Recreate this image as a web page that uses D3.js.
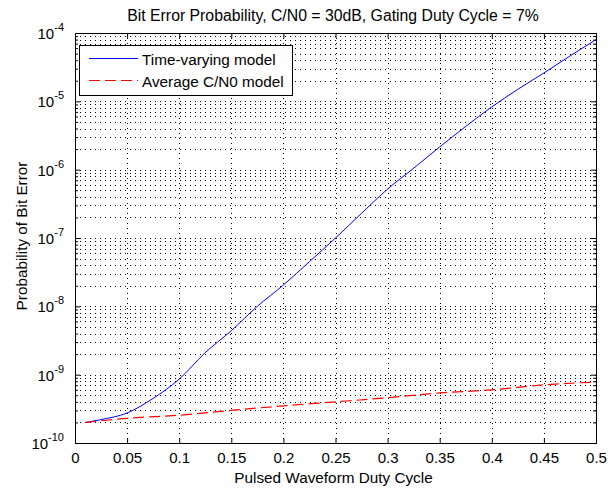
<!DOCTYPE html>
<html>
<head>
<meta charset="utf-8">
<script src="https://cdn.jsdelivr.net/npm/d3@7"></script>
<style>
body { margin: 0; background: #fff; }
text { font-family: "Liberation Sans", Arial, sans-serif; fill: #000; }
</style>
</head>
<body>
<svg id="canvas" width="608" height="493"></svg>
<script>
// duty cycle samples and the two curves
var dutyCycle = [0.01, 0.025, 0.05, 0.075, 0.1, 0.125, 0.15, 0.175, 0.2, 0.225, 0.25, 0.275, 0.3, 0.325, 0.35, 0.375, 0.4, 0.425, 0.45, 0.475, 0.5];
var timeVarying = [2.0e-10, 2.2e-10, 2.75e-10, 4.5e-10, 8.6e-10, 2.1e-9, 4.4e-9, 1.0e-8, 2.05e-8, 4.5e-8, 1.0e-7, 2.3e-7, 5.2e-7, 1.05e-6, 2.15e-6, 4.3e-6, 8.3e-6, 1.5e-5, 2.6e-5, 4.6e-5, 8.0e-5];
var avgDuty = [0.01, 0.05, 0.1, 0.15, 0.2, 0.25, 0.3, 0.35, 0.4, 0.45, 0.5];
var averageModel = [2.0e-10, 2.3e-10, 2.55e-10, 3.0e-10, 3.5e-10, 4.0e-10, 4.6e-10, 5.4e-10, 6.0e-10, 7.1e-10, 7.8e-10];
var xTicks = [0, 0.05, 0.1, 0.15, 0.2, 0.25, 0.3, 0.35, 0.4, 0.45, 0.5];
var yExponents = [-10, -9, -8, -7, -6, -5, -4];

var margin = {left: 75, top: 33, right: 12, bottom: 50};
var width = 608 - margin.left - margin.right,
    height = 493 - margin.top - margin.bottom;

var svg = d3.select("#canvas");
var g = svg.append("g").attr("transform", "translate(" + margin.left + "," + margin.top + ")");

var x = d3.scaleLinear().domain([0, 0.5]).range([0, width]);
var y = d3.scaleLog().domain([1e-10, 1e-4]).range([height, 0]);

// all log ticks (majors + minors)
var logTicks = [];
yExponents.forEach(function (e) {
    for (var m = 1; m <= 9; m++) {
        if (e === -4 && m > 1) break;
        logTicks.push(m * Math.pow(10, e));
    }
});
function isMajor(d) { return Math.abs(Math.log10(d) - Math.round(Math.log10(d))) < 1e-9; }

// grid
var grid = g.append("g").attr("class", "grid")
    .attr("stroke", "#000").attr("stroke-width", 1)
    .attr("stroke-dasharray", "1,4").attr("shape-rendering", "crispEdges");
grid.selectAll("line.gx").data(xTicks.slice(1, -1)).enter().append("line")
    .attr("x1", function (d) { return Math.round(x(d)) + 0.5; })
    .attr("x2", function (d) { return Math.round(x(d)) + 0.5; })
    .attr("y1", 0).attr("y2", height);
grid.selectAll("line.gy").data(logTicks.slice(1, -1)).enter().append("line")
    .attr("x1", 0).attr("x2", width)
    .attr("y1", function (d) { return Math.round(y(d)) + 0.5; })
    .attr("y2", function (d) { return Math.round(y(d)) + 0.5; });

// axes, ticks pointing inward, mirrored on top/right
var xAxisB = d3.axisBottom(x).tickValues(xTicks).tickSizeInner(-5).tickSizeOuter(0).tickPadding(9)
    .tickFormat(function (d) { return d === 0 ? "0" : d3.format("")(d); });
var xAxisT = d3.axisTop(x).tickValues(xTicks).tickSizeInner(-5).tickSizeOuter(0).tickFormat("");
var yAxisL = d3.axisLeft(y).tickValues(logTicks).tickSizeOuter(0).tickFormat("");
var yAxisR = d3.axisRight(y).tickValues(logTicks).tickSizeOuter(0).tickFormat("");

function styleAxis(sel) {
    sel.select(".domain").remove();
    sel.selectAll("line").attr("stroke", "#000");
    sel.selectAll("text").attr("font-size", 15).attr("font-family", "Liberation Sans, Arial, sans-serif");
}
g.append("g").attr("transform", "translate(0," + height + ")").call(xAxisB).call(styleAxis);
g.append("g").call(xAxisT).call(styleAxis);
g.append("g").call(yAxisL).call(styleAxis)
    .selectAll(".tick line").attr("x2", function (d) { return isMajor(d) ? 5 : 3; });
g.append("g").attr("transform", "translate(" + width + ",0)").call(yAxisR).call(styleAxis)
    .selectAll(".tick line").attr("x2", function (d) { return isMajor(d) ? -5 : -3; });

// y tick labels 10^n
var yLab = g.append("g");
yExponents.forEach(function (e) {
    var t = yLab.append("text")
        .attr("x", -11).attr("y", y(Math.pow(10, e)) + 6)
        .attr("text-anchor", "end").attr("font-size", 15);
    t.append("tspan").text("10");
    t.append("tspan").attr("dy", -8).attr("font-size", 11).text(String(e));
});

// box
g.append("rect").attr("x", 0.5).attr("y", 0.5).attr("width", width).attr("height", height)
    .attr("fill", "none").attr("stroke", "#000").attr("stroke-width", 1);

// curves
var line = d3.line().curve(d3.curveMonotoneX)
    .x(function (d) { return x(d[0]); }).y(function (d) { return y(d[1]); });
g.append("path").datum(d3.zip(dutyCycle, timeVarying))
    .attr("d", line).attr("fill", "none").attr("stroke", "#0000ff").attr("stroke-width", 1);
g.append("path").datum(d3.zip(avgDuty, averageModel))
    .attr("d", line).attr("fill", "none").attr("stroke", "#ff0000").attr("stroke-width", 1.2)
    .attr("stroke-dasharray", "11,5");

// legend
var leg = g.append("g").attr("transform", "translate(4,12)");
leg.append("rect").attr("x", 0.5).attr("y", 0.5).attr("width", 213).attr("height", 50)
    .attr("fill", "#fff").attr("stroke", "#000");
leg.append("line").attr("x1", 10).attr("x2", 59).attr("y1", 13.5).attr("y2", 13.5)
    .attr("stroke", "#0000ff");
leg.append("line").attr("x1", 10).attr("x2", 59).attr("y1", 35.5).attr("y2", 35.5)
    .attr("stroke", "#ff0000").attr("stroke-width", 1.2).attr("stroke-dasharray", "11,5");
leg.append("text").attr("x", 63).attr("y", 19.5).attr("font-size", 15.3).text("Time-varying model");
leg.append("text").attr("x", 63).attr("y", 42).attr("font-size", 15.3).text("Average C/N0 model");

// title and axis labels
svg.append("text").attr("x", 333).attr("y", 21).attr("text-anchor", "middle")
    .attr("font-size", 15.8).text("Bit Error Probability, C/N0 = 30dB, Gating Duty Cycle = 7%");
svg.append("text").attr("x", margin.left + width / 2 - 2).attr("y", 483).attr("text-anchor", "middle")
    .attr("font-size", 15.3).text("Pulsed Waveform Duty Cycle");
svg.append("text").attr("transform", "translate(27,236) rotate(-90)")
    .attr("text-anchor", "middle").attr("font-size", 15.3).text("Probability of Bit Error");
</script>
</body>
</html>
